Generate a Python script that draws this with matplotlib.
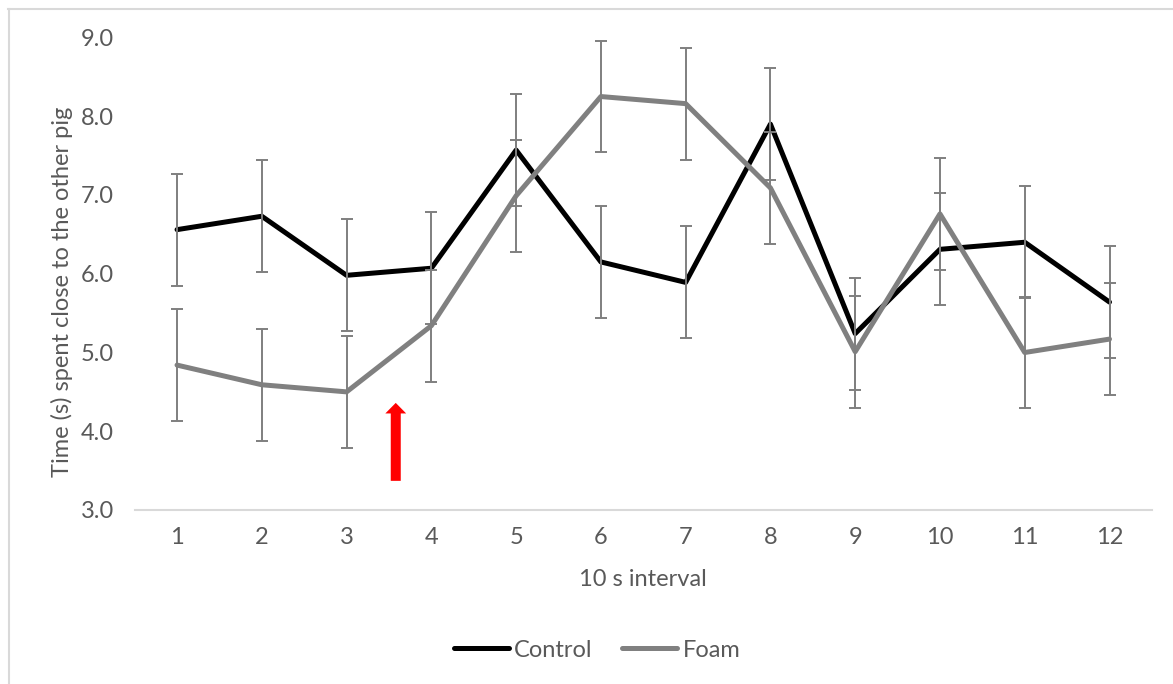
import numpy as np
import matplotlib
matplotlib.use("Agg")
import matplotlib.pyplot as plt
from matplotlib.lines import Line2D

plt.rcParams['font.family'] = ['Lato', 'DejaVu Sans']

# data
intervals = [1, 2, 3, 4, 5, 6, 7, 8, 9, 10, 11, 12]
control = [6.56, 6.73, 5.98, 6.07, 7.57, 6.15, 5.89, 7.90, 5.24, 6.31, 6.40, 5.64]
foam = [4.84, 4.59, 4.50, 5.34, 6.99, 8.25, 8.16, 7.09, 5.01, 6.76, 5.00, 5.17]
control_err = [0.71] * 12
foam_err = [0.71] * 12

# red arrow marking the event (x, y tail, y head)
arrow_x = 3.58
arrow_y0 = 3.37
arrow_y1 = 4.36

txt_col = '#595959'
err_col = '#7f7f7f'
fs = 17

fig = plt.figure(figsize=(11.73, 6.84), dpi=100)
ax = fig.add_axes([0.1148, 0.2544, 0.8672, 0.6908])

ax.errorbar(intervals, control, yerr=control_err, fmt='none', ecolor=err_col,
            elinewidth=1.4, capsize=4.5, capthick=1.4, zorder=3)
ax.errorbar(intervals, foam, yerr=foam_err, fmt='none', ecolor=err_col,
            elinewidth=1.4, capsize=4.5, capthick=1.4, zorder=3)
ax.plot(intervals, control, color='black', lw=3.6, solid_joinstyle='round',
        solid_capstyle='round', zorder=2, label='Control')
ax.plot(intervals, foam, color='#808080', lw=3.6, solid_joinstyle='round',
        solid_capstyle='round', zorder=2.5, label='Foam')

ax.annotate('', xy=(arrow_x, arrow_y1), xytext=(arrow_x, arrow_y0),
            arrowprops=dict(arrowstyle='simple,head_length=7.6,head_width=15,tail_width=7.2',
                            mutation_scale=1, color='red', lw=0,
                            shrinkA=0, shrinkB=0), zorder=4)

ax.set_xlim(0.5, 12.5)
ax.set_ylim(3.0, 9.0)
ax.set_xticks(intervals)
ax.set_yticks(np.arange(3.0, 9.01, 1.0))
ax.set_yticklabels([f'{v:.1f}' for v in np.arange(3.0, 9.01, 1.0)])
ax.tick_params(axis='both', length=0, labelsize=fs, labelcolor=txt_col)
ax.tick_params(axis='x', pad=12)
ax.tick_params(axis='y', pad=15)

for s in ['top', 'right', 'left']:
    ax.spines[s].set_visible(False)
ax.spines['bottom'].set_color('#d9d9d9')
ax.spines['bottom'].set_linewidth(1.5)

ax.set_xlabel('10 s interval', fontsize=fs, color=txt_col)
ax.xaxis.set_label_coords(0.5, -0.1249)
ax.set_ylabel('Time (s) spent close to the other pig', fontsize=fs, color=txt_col)
ax.yaxis.set_label_coords(-0.0605, 0.4624)

handles = [Line2D([], [], color='black', lw=3.6, solid_capstyle='round'),
           Line2D([], [], color='#808080', lw=3.6, solid_capstyle='round')]
leg = fig.legend(handles, ['Control', 'Foam'], loc='center', bbox_to_anchor=(0.509, 0.0497),
                 ncol=2, frameon=False, fontsize=fs, handlelength=2.33,
                 handletextpad=0.21, columnspacing=1.27)
for t in leg.get_texts():
    t.set_color(txt_col)

# chart border (only top and left edges are visible in the crop)
fig.add_artist(Line2D([8 / 1173, 1.0], [1 - 8.5 / 684, 1 - 8.5 / 684],
                      transform=fig.transFigure, color='#d9d9d9', lw=1.5))
fig.add_artist(Line2D([8.5 / 1173, 8.5 / 1173], [0.0, 1 - 8.5 / 684],
                      transform=fig.transFigure, color='#d9d9d9', lw=1.5))

fig.savefig('out.png', dpi=100)
